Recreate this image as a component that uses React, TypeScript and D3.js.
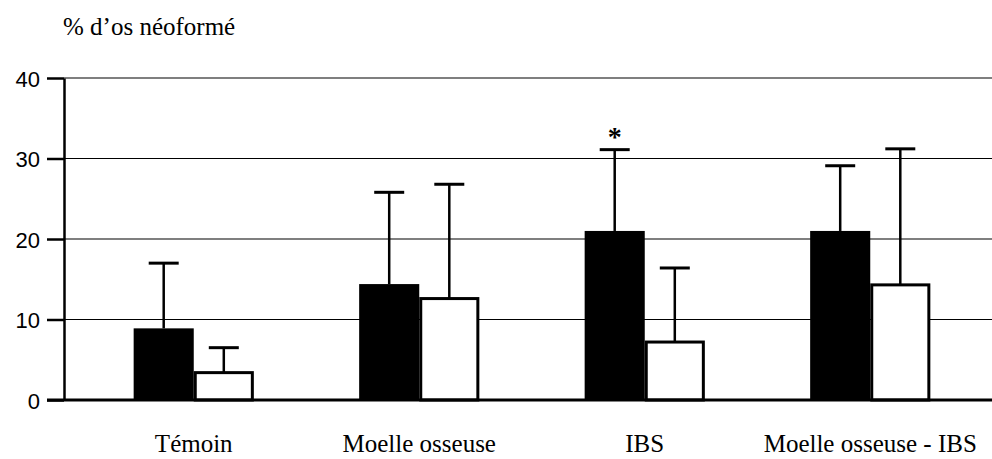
import React, { useRef, useEffect } from 'react';
import * as d3 from 'd3';

// valeurs
const categories = ['Témoin', 'Moelle osseuse', 'IBS', 'Moelle osseuse - IBS'];
const seriesKeys = ['noir', 'blanc'];
const blackMeans = [8.9, 14.4, 21.0, 21.0];
const blackSD = [8.1, 11.4, 10.1, 8.1];
const whiteMeans = [3.4, 12.6, 7.2, 14.3];
const whiteSD = [3.1, 14.2, 9.2, 16.9];
const blackSignif = ['', '', '*', ''];
const yTicks = [0, 10, 20, 30, 40];
const yTitle = '% d\u2019os néoformé';

const width = 992;
const height = 459;

const BoneChart = () => {
  const svgRef = useRef<SVGSVGElement>(null);

  useEffect(() => {
    const svg = d3.select(svgRef.current);
    svg.selectAll('*').remove();

    const axisX = 64;
    const rightX = 992;

    const y = d3.scaleLinear().domain([0, 40]).range([400, 78]);

    const x = d3.scaleBand<string>()
      .domain(categories)
      .range([81, 983])
      .paddingInner(0.467)
      .paddingOuter(0.2335);

    const xSub = d3.scaleBand<string>()
      .domain(seriesKeys)
      .range([0, x.bandwidth()]);

    const rows = categories.map((c, i) => ({
      cat: c,
      bars: [
        { key: 'noir', mean: blackMeans[i], sd: blackSD[i], mark: blackSignif[i] },
        { key: 'blanc', mean: whiteMeans[i], sd: whiteSD[i], mark: '' },
      ],
    }));

    // gridlines
    svg.append('g')
      .selectAll('line')
      .data(yTicks.filter(t => t > 0))
      .enter()
      .append('line')
      .attr('x1', axisX)
      .attr('x2', rightX)
      .attr('y1', d => y(d))
      .attr('y2', d => y(d))
      .attr('stroke', '#000')
      .attr('stroke-width', 1.2);

    // y axis
    const yAxis = svg.append('g')
      .attr('transform', `translate(${axisX},0)`)
      .call(d3.axisLeft(y).tickValues(yTicks).tickSize(17).tickSizeOuter(0).tickPadding(7));
    yAxis.select('.domain').attr('stroke', '#000').attr('stroke-width', 2.5);
    yAxis.selectAll('.tick line').attr('stroke', '#000').attr('stroke-width', 2.5);
    yAxis.selectAll('.tick text')
      .attr('fill', '#000')
      .attr('dy', '0.38em')
      .style('font-family', '"Liberation Sans", Arial, sans-serif')
      .style('font-size', '22px');

    // bars
    const groups = svg.append('g')
      .selectAll('g')
      .data(rows)
      .enter()
      .append('g')
      .attr('transform', d => `translate(${x(d.cat)},0)`);

    const bar = groups.selectAll('g')
      .data(d => d.bars)
      .enter()
      .append('g');

    bar.append('line')
      .attr('x1', d => (xSub(d.key) as number) + xSub.bandwidth() / 2)
      .attr('x2', d => (xSub(d.key) as number) + xSub.bandwidth() / 2)
      .attr('y1', d => y(d.mean))
      .attr('y2', d => y(d.mean + d.sd))
      .attr('stroke', '#000')
      .attr('stroke-width', 2.5);

    bar.append('line')
      .attr('x1', d => (xSub(d.key) as number) + xSub.bandwidth() / 2 - 15)
      .attr('x2', d => (xSub(d.key) as number) + xSub.bandwidth() / 2 + 15)
      .attr('y1', d => y(d.mean + d.sd))
      .attr('y2', d => y(d.mean + d.sd))
      .attr('stroke', '#000')
      .attr('stroke-width', 3);

    bar.append('rect')
      .attr('x', d => (xSub(d.key) as number) + (d.key === 'blanc' ? 1.5 : 0))
      .attr('y', d => y(d.mean))
      .attr('width', d => xSub.bandwidth() - (d.key === 'blanc' ? 3 : 0))
      .attr('height', d => y(0) - y(d.mean))
      .attr('fill', d => d.key === 'noir' ? '#000' : '#fff')
      .attr('stroke', '#000')
      .attr('stroke-width', d => d.key === 'noir' ? 0 : 3);

    bar.filter(d => d.mark !== '')
      .append('text')
      .attr('x', d => (xSub(d.key) as number) + xSub.bandwidth() / 2)
      .attr('y', d => y(d.mean + d.sd) - 4)
      .attr('text-anchor', 'middle')
      .style('font-family', '"Liberation Serif", "Times New Roman", serif')
      .style('font-size', '28px')
      .style('font-weight', 'bold')
      .text(d => d.mark);

    // baseline
    svg.append('line')
      .attr('x1', axisX - 17)
      .attr('x2', rightX)
      .attr('y1', y(0))
      .attr('y2', y(0))
      .attr('stroke', '#000')
      .attr('stroke-width', 3);

    // category labels
    svg.append('g')
      .selectAll('text')
      .data(categories)
      .enter()
      .append('text')
      .attr('x', d => (x(d) as number) + x.bandwidth() / 2)
      .attr('y', 452)
      .attr('text-anchor', 'middle')
      .style('font-family', '"Liberation Serif", "Times New Roman", serif')
      .style('font-size', '25px')
      .text(d => d);

    // title
    svg.append('text')
      .attr('x', 63)
      .attr('y', 35)
      .style('font-family', '"Liberation Serif", "Times New Roman", serif')
      .style('font-size', '25px')
      .text(yTitle);
  }, []);

  return (
    <svg
      ref={svgRef}
      width={width}
      height={height}
      style={{ position: 'absolute', left: 0, top: 0, background: '#fff' }}
    />
  );
};

export default function App() {
  return <BoneChart />;
}
